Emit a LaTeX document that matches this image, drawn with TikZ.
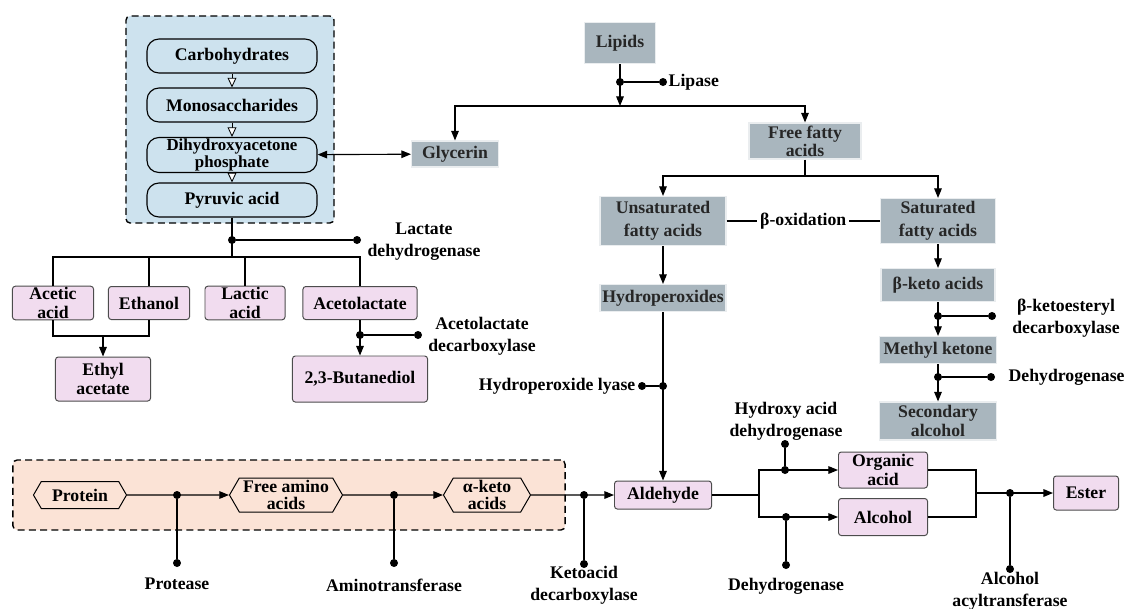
\documentclass[tikz,border=0pt]{standalone}
\usepackage{fontspec}
\setmainfont{Liberation Serif}
\usetikzlibrary{arrows.meta, shapes.symbols}

\definecolor{sugarblue}{HTML}{CDE2EE}
\definecolor{lipidgray}{HTML}{A9B6BE}
\definecolor{productpink}{HTML}{F1DCEF}
\definecolor{proteinpeach}{HTML}{FBE3D6}

\begin{document}
\begin{tikzpicture}[x=0.025cm, y=-0.025cm]
    % settings
    \tikzset{
      >={Triangle[length=2.4mm, width=1.9mm]},
      every node/.style={font=\bfseries\fontsize{12.6}{13}\selectfont, align=center, inner sep=1pt},
      enzlabel/.style={font=\bfseries\fontsize{12.6}{15.5}\selectfont},
      sugar/.style={draw, line width=0.8pt, rounded corners=0.3cm, fill=sugarblue, minimum width=4.25cm, minimum height=0.85cm},
      lipid/.style={fill=lipidgray, draw=white!75!lipidgray, line width=0.8pt, text=black!85},
      product/.style={draw=black!70, line width=0.7pt, fill=productpink, rounded corners=2pt},
      amino/.style={signal, signal to=east and west, signal pointer angle=120, draw, line width=0.7pt, fill=proteinpeach, minimum height=0.85cm, font=\bfseries\fontsize{12.6}{12.5}\selectfont},
      dot/.style={circle, fill, inner sep=0pt, minimum size=0.2cm},
      enzyme/.style={line width=1.7pt},
      flow/.style={line width=0.8pt},
      sugarstep/.style={-{Triangle[open, fill=white, length=2.4mm, width=2.2mm]}, line width=0.6pt},
      groupbox/.style={draw, line width=1pt, dash pattern=on 5pt off 3pt, rounded corners=3pt},
    }
    \useasboundingbox (0,0) rectangle (1128,608);

    % groups
    \node[groupbox, fill=sugarblue, minimum width=5.2cm, minimum height=5.175cm] (sugarbox) at (230,119.5) {};
    \node[groupbox, fill=proteinpeach, minimum width=13.8cm, minimum height=1.75cm] (proteinbox) at (289,495) {};

    % carbohydrates
    \node[sugar] (carb) at (232,56) {Carbohydrates};
    \node[sugar] (mono) at (232,105) {Monosaccharides};
    \node[sugar, font=\bfseries\fontsize{12}{12}\selectfont] (dhap) at (232,155) {Dihydroxyacetone\\phosphate};
    \node[sugar] (pyruvic) at (232,200) {Pyruvic acid};

    % lipids
    \node[lipid, minimum width=1.775cm, minimum height=1.025cm] (lipids) at (620,43) {Lipids};
    \node[lipid, minimum width=2.175cm, minimum height=0.65cm] (glycerin) at (455,154) {Glycerin};
    \node[lipid, minimum width=2.8cm, minimum height=0.9cm] (ffa) at (805,141) {Free fatty\\acids};
    \node[lipid, minimum width=3.15cm, minimum height=1.225cm, font=\bfseries\fontsize{12.6}{16}\selectfont] (unsat) at (663,221) {Unsaturated\\fatty acids};
    \node[lipid, minimum width=2.875cm, minimum height=1.125cm, font=\bfseries\fontsize{12.6}{16}\selectfont] (sat) at (938,221) {Saturated\\fatty acids};
    \node[lipid, minimum width=3.15cm, minimum height=0.675cm] (hydroperox) at (663,298) {Hydroperoxides};
    \node[lipid, minimum width=2.85cm, minimum height=0.825cm] (ketoacids) at (938,285) {β-keto acids};
    \node[lipid, minimum width=2.925cm, minimum height=0.675cm] (methylketone) at (938,350) {Methyl ketone};
    \node[lipid, minimum width=2.925cm, minimum height=0.95cm] (secalcohol) at (938,421) {Secondary\\alcohol};

    % products
    \node[product, minimum width=2.025cm, minimum height=0.825cm] (acetic) at (53,303) {Acetic\\acid};
    \node[product, minimum width=2.025cm, minimum height=0.825cm] (ethanol) at (149,303) {Ethanol};
    \node[product, minimum width=2cm, minimum height=0.825cm] (lactic) at (245,303) {Lactic\\acid};
    \node[product, minimum width=2.85cm, minimum height=0.825cm] (acetolactate) at (360,303) {Acetolactate};
    \node[product, minimum width=2.375cm, minimum height=1.1cm] (ethylacetate) at (103,379) {Ethyl\\acetate};
    \node[product, minimum width=3.375cm, minimum height=1.15cm] (butanediol) at (360,379) {2,3-Butanediol};
    \node[product, minimum width=2.425cm, minimum height=0.7cm] (aldehyde) at (663,495) {Aldehyde};
    \node[product, minimum width=2.225cm, minimum height=0.9cm] (organic) at (883,470) {Organic\\acid};
    \node[product, minimum width=2.225cm, minimum height=0.925cm] (alcohol) at (883,517) {Alcohol};
    \node[product, minimum width=1.625cm, minimum height=0.85cm] (ester) at (1086,493) {Ester};

    % proteins
    \node[amino, minimum width=2.325cm, minimum height=0.675cm] (protein) at (80,495) {Protein};
    \node[amino, minimum width=2.825cm] (freeamino) at (286,495) {Free amino\\acids};
    \node[amino, minimum width=2.175cm] (alphaketo) at (487,495) {α-keto\\acids};

    % enzymes
    \node[dot] (lipA) at (620,82) {};
    \node[dot] (lipB) at (663,82) {};
    \node[enzlabel, anchor=west] (lipase) at (667,82) {Lipase};
    \node[dot] (ldhA) at (232,240) {};
    \node[dot] (ldhB) at (357,240) {};
    \node[enzlabel] (ldh) at (424,242) {Lactate\\dehydrogenase};
    \node[dot] (aldcA) at (360,335) {};
    \node[dot] (aldcB) at (418,335) {};
    \node[enzlabel] (aldc) at (482,336) {Acetolactate\\decarboxylase};
    \node[dot] (hplA) at (663,386) {};
    \node[dot] (hplB) at (642,386) {};
    \node[enzlabel, anchor=east] (hpl) at (637,386) {Hydroperoxide lyase};
    \node[dot] (bkdA) at (938,316) {};
    \node[dot] (bkdB) at (992,316) {};
    \node[enzlabel] (bkd) at (1066,318) {β-ketoesteryl\\decarboxylase};
    \node[dot] (mdhA) at (938,377) {};
    \node[dot] (mdhB) at (991,377) {};
    \node[enzlabel, anchor=west] (mdh) at (1007,377) {Dehydrogenase};
    \node[dot] (protA) at (177,495) {};
    \node[dot] (protB) at (177,563) {};
    \node[enzlabel] (protease) at (177,584) {Protease};
    \node[dot] (atA) at (394,495) {};
    \node[dot] (atB) at (394,563) {};
    \node[enzlabel] (aminotrans) at (394,585) {Aminotransferase};
    \node[dot] (kdcA) at (584,495) {};
    \node[dot] (kdcB) at (584,564) {};
    \node[enzlabel] (kdc) at (584,585) {Ketoacid\\decarboxylase};
    \node[dot] (hadA) at (785,470) {};
    \node[dot] (hadB) at (785,444) {};
    \node[enzlabel] (had) at (786,421) {Hydroxy acid\\dehydrogenase};
    \node[dot] (adhA) at (786,517) {};
    \node[dot] (adhB) at (786,565) {};
    \node[enzlabel] (adh) at (786,586) {Dehydrogenase};
    \node[dot] (aatA) at (1010,493) {};
    \node[dot] (aatB) at (1010,569) {};
    \node[enzlabel] (aat) at (1010,591) {Alcohol\\acyltransferase};

    \foreach \e in {lip, ldh, aldc, hpl, bkd, mdh, prot, at, kdc, had, adh, aat}
      \draw[enzyme] (\e A) -- (\e B);

    % carbohydrate connections
    \draw[sugarstep] (carb) -- (mono);
    \draw[sugarstep] (mono) -- (dhap);
    \draw[sugarstep] (dhap) -- (pyruvic);
    \draw[flow, <->] (dhap) -- (glycerin);

    \coordinate (pyrsplit) at (232,257);
    \draw[flow] (pyruvic) -- (pyrsplit);
    \draw[flow] (acetic) |- (pyrsplit) -| (acetolactate);
    \draw[flow] (ethanol) |- (pyrsplit);
    \draw[flow] (lactic) |- (pyrsplit);
    \coordinate (ethylsplit) at (103,336);
    \draw[flow] (acetic) |- (ethylsplit) -| (ethanol);
    \draw[flow, ->] (ethylsplit) -- (ethylacetate);
    \draw[flow, ->] (acetolactate) -- (butanediol);

    % lipid connections
    \coordinate (lipsplit) at (620,106);
    \draw[flow, ->] (lipids) -- (lipsplit);
    \draw[flow, ->] (lipsplit) -| (glycerin);
    \draw[flow, ->] (lipsplit) -| (ffa);
    \coordinate (ffasplit) at (805,176);
    \draw[flow] (ffa) -- (ffasplit);
    \draw[flow, ->] (ffasplit) -| (unsat);
    \draw[flow, ->] (ffasplit) -| (sat);
    \draw[enzyme] (unsat) -- node[fill=white, inner sep=2pt, enzlabel] (betaox) {β-oxidation} (sat);
    \draw[flow, ->] (unsat) -- (hydroperox);
    \draw[flow, ->] (hydroperox) -- (aldehyde);
    \draw[flow, ->] (sat) -- (ketoacids);
    \draw[flow, ->] (ketoacids) -- (methylketone);
    \draw[flow, ->] (methylketone) -- (secalcohol);

    % protein connections
    \draw[flow, ->] (protein) -- (freeamino);
    \draw[flow, ->] (freeamino) -- (alphaketo);
    \draw[flow, ->] (alphaketo) -- (aldehyde);

    % ester formation
    \coordinate (aldsplit) at (759,495);
    \draw[flow] (aldehyde) -- (aldsplit);
    \draw[flow, ->] (aldsplit) |- (organic);
    \draw[flow, ->] (aldsplit) |- (alcohol);
    \coordinate (estersplit) at (976,493);
    \draw[flow, line width=1pt] (organic) -| (estersplit);
    \draw[flow, line width=1pt] (alcohol) -| (estersplit);
    \draw[flow, line width=1pt, ->] (estersplit) -- (ester);
\end{tikzpicture}
\end{document}
